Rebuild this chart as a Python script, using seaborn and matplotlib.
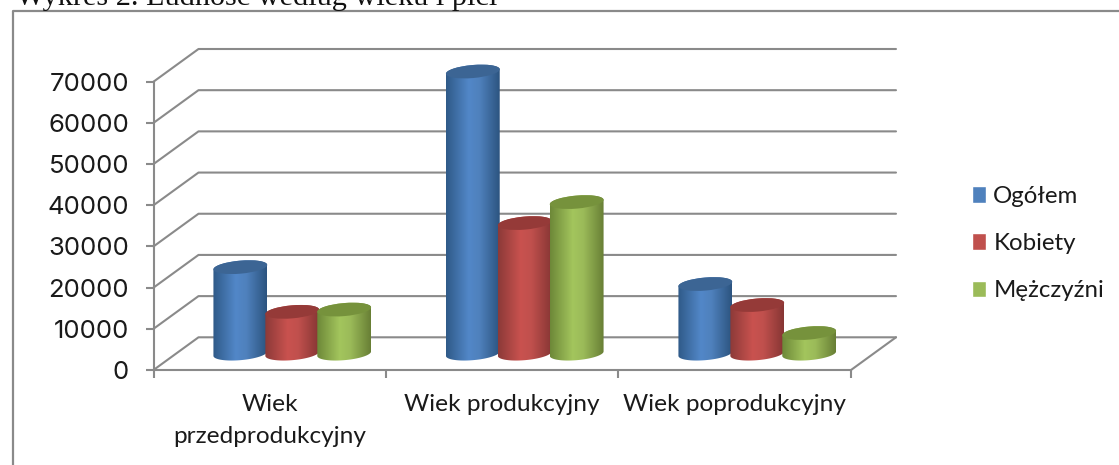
#!/usr/bin/env python
"""Ludnosc wedlug wieku i plci - 3D style cylinder chart drawn on seaborn bars."""

import matplotlib
matplotlib.use("Agg")
import numpy as np
import pandas as pd
import matplotlib.pyplot as plt
import seaborn as sns
from matplotlib.lines import Line2D
from matplotlib.patches import Ellipse, PathPatch
from matplotlib.path import Path as MplPath
from matplotlib.colors import LinearSegmentedColormap
from matplotlib.transforms import IdentityTransform

# Data
title = "Wykres 2. Ludność według wieku i płci"
categories = ["Wiek\nprzedprodukcyjny", "Wiek produkcyjny", "Wiek poprodukcyjny"]
series_names = ["Ogółem", "Kobiety", "Mężczyźni"]
ogolem = [21000, 68500, 16900]
kobiety = [10150, 31700, 11800]
mezczyzni = [10700, 36800, 5000]
y_ticks = [0, 10000, 20000, 30000, 40000, 50000, 60000, 70000]

# Colours: flat, gradient stops (edge, middle, edge), cylinder top
flat = ["#4f81bd", "#c0504d", "#9bbb59"]
stops = [
    ["#2f5a88", "#5287c8", "#4f81bd", "#2c5480"],
    ["#8c3a38", "#c9524f", "#c0504d", "#873634"],
    ["#6d8838", "#a3c55d", "#9bbb59", "#687f35"],
]
tops = ["#3c6594", "#953a38", "#76923c"]
GREY = "#8a8a8a"

W, H = 1119, 465
FRONT_L, FRONT_R, FRONT_0, FRONT_70 = 153.5, 851.0, 370.0, 81.7
DEPTH_X, DEPTH_Y = 45.0, 32.7
CYL_A, CYL_B, CYL_TILT = 27.0, 6.5, np.deg2rad(5)


def ellipse_arc(cx, cy, t0, t1):
    """Points of the tilted cylinder rim, display pixels."""
    t = np.linspace(t0, t1, 40)
    x = CYL_A * np.cos(t) * np.cos(CYL_TILT) - CYL_B * np.sin(t) * np.sin(CYL_TILT)
    y = CYL_A * np.cos(t) * np.sin(CYL_TILT) + CYL_B * np.sin(t) * np.cos(CYL_TILT)
    return np.column_stack([cx + x, cy + y])


def draw_cylinder(fig, ax, bar, cmap, top_color, zorder):
    """Turn one seaborn bar into a shaded cylinder."""
    x_mid = bar.get_x() + bar.get_width() / 2
    value = bar.get_height()
    (cx, cy0), (_, cy1) = ax.transData.transform([(x_mid, 0), (x_mid, value)])

    rim = np.vstack([ellipse_arc(cx, cy0, np.pi, 2 * np.pi), ellipse_arc(cx, cy1, 0, np.pi)])
    body = PathPatch(MplPath(np.vstack([rim, rim[0]]), closed=True),
                     facecolor="none", edgecolor="none")
    body.set_transform(IdentityTransform())

    half = CYL_A / (FRONT_R - FRONT_L) * 3
    shade = np.linspace(0, 1, 128)[None, :]
    im = ax.imshow(shade, cmap=cmap, aspect="auto", zorder=zorder,
                   extent=(x_mid - half, x_mid + half, -4000, value + 4000))
    im.set_clip_box(fig.bbox)
    im.set_clip_path(body)

    top = Ellipse((cx, cy1), 2 * CYL_A, 2 * CYL_B, angle=np.rad2deg(CYL_TILT),
                  facecolor=top_color, edgecolor="none", zorder=zorder + 0.1,
                  transform=IdentityTransform(), clip_on=False)
    ax.add_artist(top)

    # keep the flat bar under the shading, narrow enough to stay hidden
    bar.set_x(x_mid - 0.4 * bar.get_width())
    bar.set_width(0.8 * bar.get_width())
    bar.set_zorder(zorder - 0.1)


def main():
    sns.set_theme(style="white")
    plt.rcParams["font.family"] = ["Lato", "DejaVu Sans"]

    df = pd.DataFrame({
        "Wiek": np.tile(categories, 3),
        "Ludność": ogolem + kobiety + mezczyzni,
        "Płeć": np.repeat(series_names, 3),
    })

    fig = plt.figure(figsize=(W / 100, H / 100), dpi=100, facecolor="white")
    rect = [FRONT_L / W, (H - FRONT_0) / H, (FRONT_R - FRONT_L) / W, (FRONT_0 - FRONT_70) / H]
    ax = fig.add_axes(rect)
    # bars stand half way into the depth of the chart
    bars_ax = fig.add_axes([rect[0] + DEPTH_X / 2 / W, rect[1] + DEPTH_Y / 2 / H, rect[2], rect[3]])

    x_lim = (-0.5, 2.5)
    y_lim = (0, 70000)
    dx = DEPTH_X / (FRONT_R - FRONT_L) * 3
    dy = DEPTH_Y / (FRONT_0 - FRONT_70) * 70000

    # walls and floor
    ax.set_xlim(x_lim)
    ax.set_ylim(y_lim)
    for v in y_ticks:
        ax.plot([x_lim[0], x_lim[0] + dx, x_lim[1] + dx],
                [v, v + dy, v + dy], color=GREY, lw=1.5, clip_on=False, zorder=1)
    ax.plot([x_lim[1], x_lim[1] + dx], [0, dy], color=GREY, lw=1.5, clip_on=False, zorder=1)

    ax.set_yticks(y_ticks)
    ax.set_xticks([0, 1, 2], categories)
    ax.set_xticks([-0.5, 0.5, 1.5, 2.5], minor=True)
    ax.tick_params(axis="y", length=5.5, width=1.5, color=GREY, pad=12, labelsize=18.5,
                   labelcolor="#1a1a1a", left=True)
    ax.tick_params(axis="x", which="major", length=0, pad=17.5, labelsize=17.6, labelcolor="#1a1a1a")
    ax.tick_params(axis="x", which="minor", length=6, width=1.5, color=GREY, bottom=True)
    for lab in ax.get_yticklabels():
        lab.set_family(["Inter", "DejaVu Sans"])
    for lab in ax.get_xticklabels():
        lab.set_linespacing(1.6)
        lab.set_verticalalignment("top")
    sns.despine(ax=ax)
    for side in ("left", "bottom"):
        ax.spines[side].set_color(GREY)
        ax.spines[side].set_linewidth(1.5)

    # bars
    sns.barplot(data=df, x="Wiek", y="Ludność", hue="Płeć", hue_order=series_names,
                palette=flat, width=0.67, gap=0, saturation=1, errorbar=None, ax=bars_ax)
    bars_ax.set_xlim(x_lim)
    bars_ax.set_ylim(y_lim)
    bars_ax.set_axis_off()

    sns.move_legend(bars_ax, loc="upper left", title=None, frameon=False,
                    bbox_to_anchor=(950 / W, (H - 164) / H),
                    bbox_transform=fig.transFigure,
                    fontsize=17.3, labelspacing=1.1, handlelength=0.6, handleheight=0.7,
                    handletextpad=0.3, labelcolor="#1a1a1a")

    for i, container in enumerate(bars_ax.containers):
        cmap = LinearSegmentedColormap.from_list(f"cyl{i}", list(zip([0, 0.42, 0.62, 1], stops[i])))
        for j, bar in enumerate(container):
            draw_cylinder(fig, bars_ax, bar, cmap, tops[i], zorder=3 + i + j * 3)
    bars_ax.set_xlim(x_lim)
    bars_ax.set_ylim(y_lim)

    # outer frame, open at the bottom and on the right
    fig.add_artist(Line2D([12.5 / W, 12.5 / W, 1], [0, (H - 11.5) / H, (H - 11.5) / H],
                          color=GREY, lw=1.6))
    fig.text(16 / W, (H - 5) / H, title, family=["Liberation Serif", "DejaVu Serif"],
             fontsize=21.8, color="#111111", ha="left", va="baseline")

    fig.savefig("out.png", dpi=100)
    plt.close(fig)


if __name__ == "__main__":
    main()
